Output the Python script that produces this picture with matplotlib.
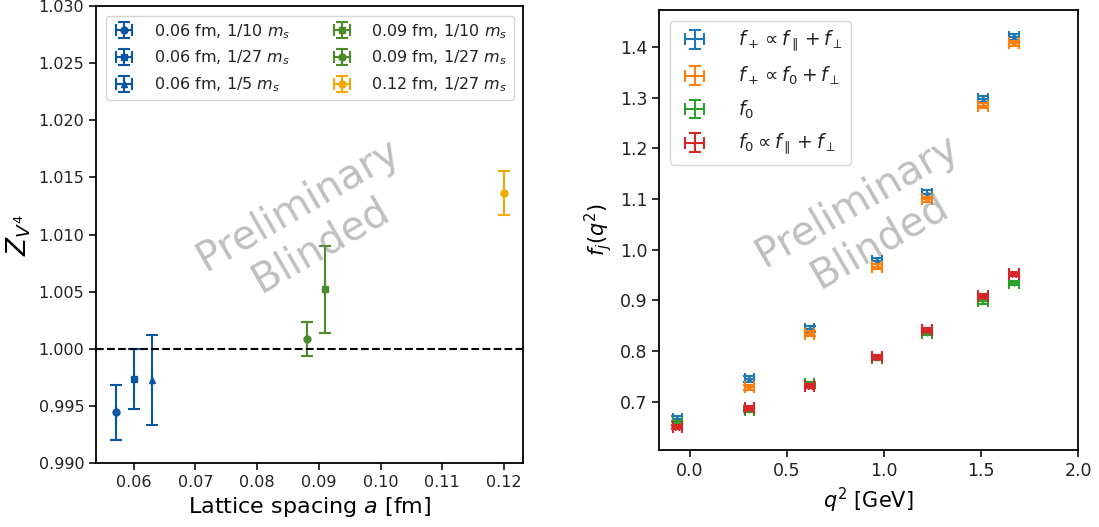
import matplotlib
matplotlib.use('Agg')
import matplotlib.pyplot as plt
import numpy as np

# left panel: Z_V4 vs lattice spacing
ens_labels = ['0.06 fm, 1/10 $m_s$', '0.06 fm, 1/27 $m_s$', '0.06 fm, 1/5 $m_s$',
              '0.09 fm, 1/10 $m_s$', '0.09 fm, 1/27 $m_s$', '0.12 fm, 1/27 $m_s$']
ens_a = [0.0571, 0.0600, 0.0630, 0.0910, 0.0880, 0.1200]
ens_z = [0.99445, 0.99735, 0.99727, 1.00520, 1.00083, 1.01363]
ens_err = [0.0024, 0.0026, 0.0039, 0.0038, 0.0015, 0.0019]
ens_marker = ['o', 's', '^', 's', 'o', 'o']
ens_color = ['#0b56a0', '#0b56a0', '#0b56a0', '#4b8b2b', '#4b8b2b', '#f2a900']

# right panel: form factors vs q^2
q2 = [-0.065, 0.306, 0.616, 0.965, 1.222, 1.509, 1.670]
ff_labels = [r'$f_+ \propto f_\parallel + f_\perp$', r'$f_+ \propto f_0 + f_\perp$',
             r'$f_0$', r'$f_0 \propto f_\parallel + f_\perp$']
fplus_par = [0.666, 0.745, 0.844, 0.977, 1.111, 1.297, 1.420]
fplus_f0 = [0.656, 0.729, 0.834, 0.967, 1.100, 1.284, 1.407]
f0 = [0.658, 0.684, 0.735, 0.786, 0.835, 0.898, 0.935]
f0_par = [0.651, 0.687, 0.732, 0.789, 0.842, 0.908, 0.952]
ff_err = [0.006, 0.005, 0.004, 0.004]
ff_marker = ['.', '.', '+', '*']
ff_color = ['#1f77b4', '#ff7f0e', '#2ca02c', '#d62728']

plt.rcParams['axes.linewidth'] = 1.3
plt.rcParams['xtick.major.width'] = 1.3
plt.rcParams['ytick.major.width'] = 1.3
plt.rcParams['xtick.major.size'] = 5
plt.rcParams['ytick.major.size'] = 5
plt.rcParams['text.color'] = '#222222'
plt.rcParams['xtick.color'] = '#222222'
plt.rcParams['ytick.color'] = '#222222'

fig = plt.figure(figsize=(10.99, 5.27), dpi=100)
ax1 = fig.add_axes([0.0874, 0.1214, 0.3886, 0.8672])
ax2 = fig.add_axes([0.5996, 0.1461, 0.3814, 0.8349])

for i in range(len(ens_labels)):
    ax1.errorbar(ens_a[i], ens_z[i], yerr=ens_err[i], xerr=0, fmt=ens_marker[i],
                 color=ens_color[i], ms=5, capsize=4, elinewidth=1.5, capthick=1.5,
                 label=ens_labels[i])
ax1.axhline(1.0, color='k', ls='--', lw=1.5)
ax1.set_xlim(0.0539, 0.1231)
ax1.set_ylim(0.990, 1.030)
ax1.set_xticks(np.arange(0.06, 0.1201, 0.01))
ax1.set_xticklabels(['%.2f' % t for t in np.arange(0.06, 0.1201, 0.01)])
ax1.set_yticks(np.arange(0.990, 1.0301, 0.005))
ax1.set_yticklabels(['%.3f' % t for t in np.arange(0.990, 1.0301, 0.005)])
ax1.tick_params(labelsize=11.5)
ax1.set_xlabel('Lattice spacing $a$ [fm]', fontsize=16)
ax1.set_ylabel('$Z_{V^4}$', fontsize=19)
ax1.legend(loc='upper left', ncol=2, fontsize=11.5, handlelength=1.5,
           handletextpad=1.1, columnspacing=2.5, borderaxespad=0.6)
ax1.text(0.5, 0.52, 'Preliminary\nBlinded', transform=ax1.transAxes, fontsize=29,
         color='gray', alpha=0.5, rotation=30, ha='center', va='center')

ff_vals = [fplus_par, fplus_f0, f0, f0_par]
for i in range(len(ff_labels)):
    ax2.errorbar(q2, ff_vals[i], yerr=ff_err[i], xerr=0.025, fmt='none',
                 ecolor=ff_color[i], capsize=4, elinewidth=1.5, capthick=1.5,
                 label=ff_labels[i])
    ax2.plot(q2, ff_vals[i], ff_marker[i], color=ff_color[i], ms=5, ls='none')
ax2.set_xlim(-0.16, 2.0)
ax2.set_ylim(0.605, 1.473)
ax2.tick_params(labelsize=12.5)
ax2.set_xlabel('$q^2$ [GeV]', fontsize=15)
ax2.set_ylabel('$f_j(q^2)$', fontsize=15)
ax2.legend(loc='upper left', fontsize=13.5, handlelength=1.8, handletextpad=1.4,
           labelspacing=0.6, borderaxespad=0.6)
ax2.text(0.5, 0.52, 'Preliminary\nBlinded', transform=ax2.transAxes, fontsize=29,
         color='gray', alpha=0.5, rotation=30, ha='center', va='center')

fig.savefig('out.png', dpi=100)
